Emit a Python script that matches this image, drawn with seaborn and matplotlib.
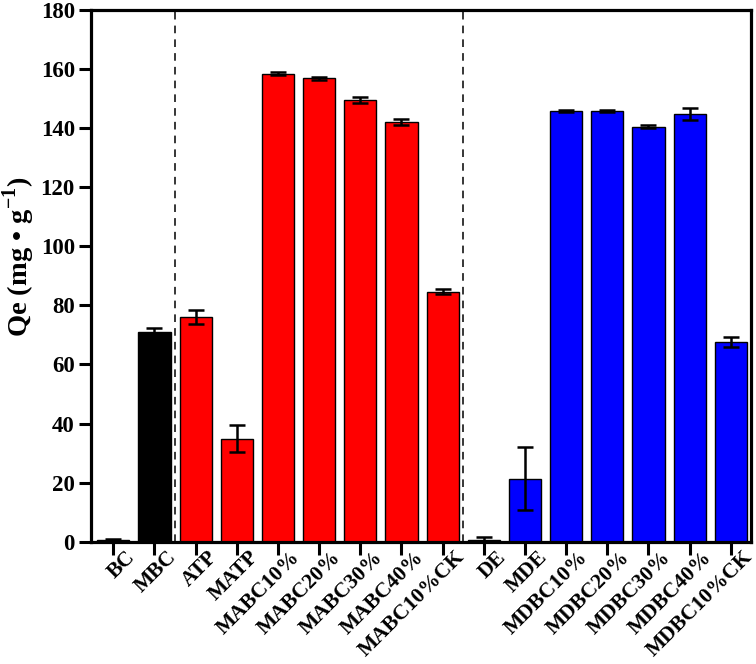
import matplotlib
matplotlib.use("Agg")
import matplotlib.pyplot as plt
import matplotlib.transforms as mtrans
import seaborn as sns
import pandas as pd
import numpy as np

categories = ["BC", "MBC", "ATP", "MATP", "MABC10%", "MABC20%", "MABC30%",
              "MABC40%", "MABC10%CK", "DE", "MDE", "MDBC10%", "MDBC20%",
              "MDBC30%", "MDBC40%", "MDBC10%CK"]
qe = [0.5, 70.9, 76.0, 34.9, 158.4, 156.8, 149.6, 142.1, 84.6,
      0.6, 21.3, 145.8, 145.7, 140.5, 144.8, 67.6]
err = [0.3, 1.6, 2.4, 4.5, 0.5, 0.5, 1.0, 1.1, 0.8,
       0.9, 10.7, 0.3, 0.3, 0.5, 2.1, 1.7]
bar_colors = ["#000000"] * 2 + ["#FF0000"] * 7 + ["#0000FF"] * 7
ytick_vals = [0, 20, 40, 60, 80, 100, 120, 140, 160, 180]

sns.set_theme(style="ticks")
plt.rcParams["font.family"] = ["Liberation Serif", "DejaVu Serif"]
plt.rcParams["font.weight"] = "bold"
plt.rcParams["text.color"] = "black"
plt.rcParams["axes.labelcolor"] = "black"
plt.rcParams["mathtext.fontset"] = "custom"
plt.rcParams["mathtext.rm"] = "Liberation Serif:bold"
plt.rcParams["mathtext.bf"] = "Liberation Serif:bold"

df = pd.DataFrame({"cat": categories, "qe": qe, "err": err})

fig = plt.figure(figsize=(7.56, 6.64), dpi=100)
ax = fig.add_axes([0.121, 0.1842, 0.8724, 0.8008])

sns.barplot(data=df, x="cat", y="qe", hue="cat", palette=dict(zip(categories, bar_colors)),
            legend=False, width=0.78, edgecolor="black", linewidth=1.0,
            saturation=1, errorbar=None, ax=ax)

xs = np.arange(len(categories))
ax.errorbar(xs, df["qe"], yerr=df["err"], fmt="none", ecolor="black",
            elinewidth=1.8, capsize=6, capthick=1.8, zorder=5)

for xv in [1.5, 8.5]:
    ax.axvline(xv, color="black", linestyle=(0, (5, 4)), linewidth=1.1, zorder=1)

ax.set_xlim(-0.53, 15.49)
ax.set_ylim(0, 180)
ax.set_yticks(ytick_vals)
ax.set_yticklabels([str(v) for v in ytick_vals], fontsize=16.5, fontweight="bold")
ax.set_xticks(xs)
ax.set_xticklabels(categories, rotation=45, ha="right", rotation_mode="anchor",
                   fontsize=15.5, fontweight="bold")
ax.set_xlabel("")
ax.set_ylabel("Qe (mg • g$^{-1}$)", fontsize=20.5, fontweight="bold", color="black")
ax.yaxis.set_label_coords(-0.082, 0.535)

for s in ax.spines.values():
    s.set_visible(True)
    s.set_linewidth(2.3)
    s.set_color("black")
ax.tick_params(axis="both", direction="out", length=9, width=2.2, colors="black",
               labelcolor="black", pad=3)

off = mtrans.ScaledTranslation(12 / 100, 11 / 100, fig.dpi_scale_trans)
for lab in ax.get_xticklabels():
    lab.set_transform(lab.get_transform() + off)

fig.savefig("out.png", dpi=100)
